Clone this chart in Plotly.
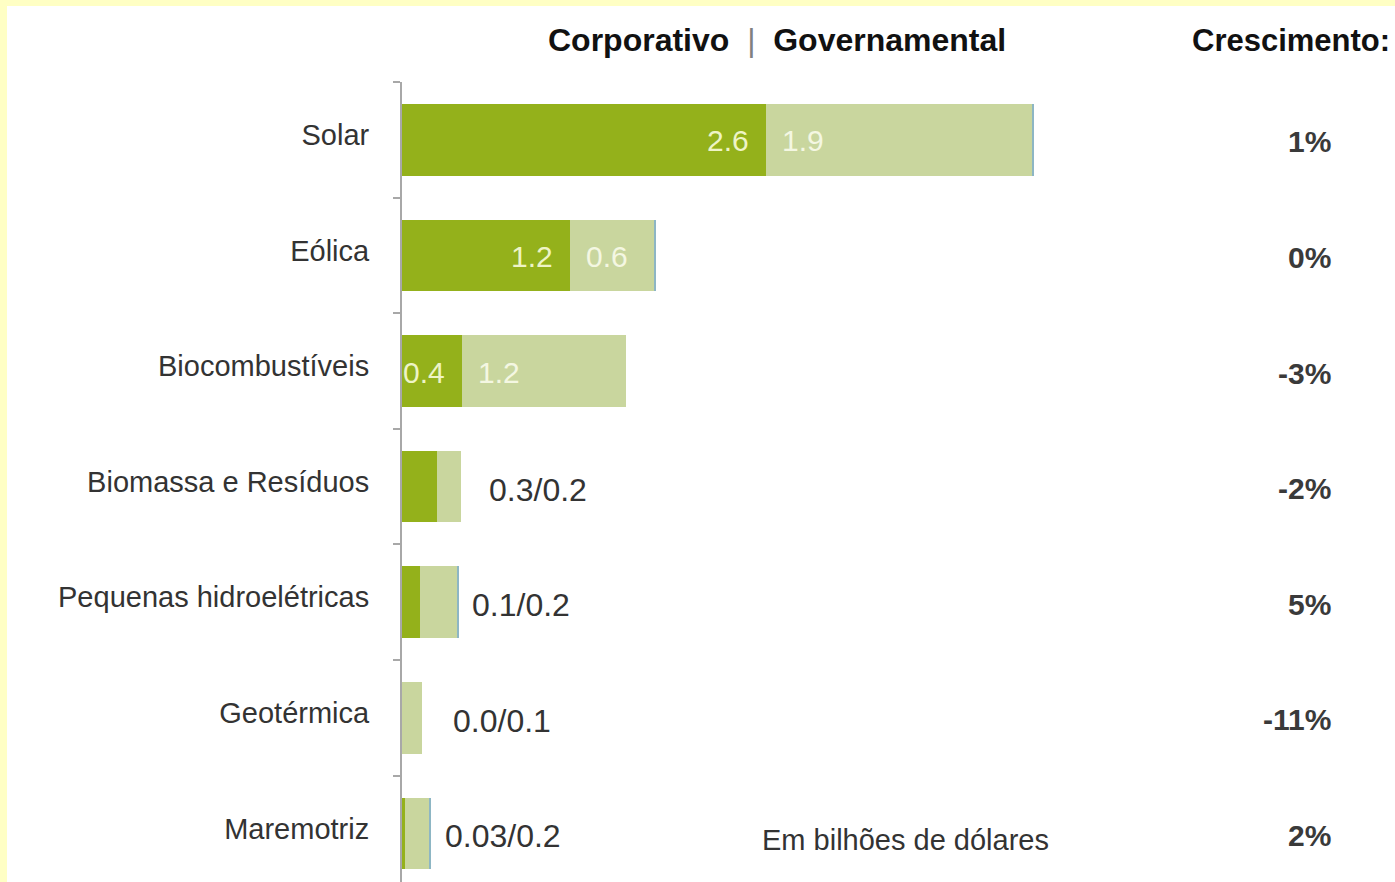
import plotly.graph_objects as go

# ---------------- data ----------------
categories = ["Solar", "Eólica", "Biocombustíveis", "Biomassa e Resíduos",
              "Pequenas hidroelétricas", "Geotérmica", "Maremotriz"]
corporativo = [2.6, 1.2, 0.43, 0.25, 0.13, 0.0, 0.02]
governamental = [1.9, 0.6, 1.17, 0.17, 0.26, 0.14, 0.17]
outros = [0.015, 0.015, 0.0, 0.0, 0.015, 0.0, 0.015]
corp_labels = ["2.6", "1.2", "0.4", "", "", "", ""]
gov_labels = ["1.9", "0.6", "1.2", "", "", "", ""]
outside_labels = ["", "", "", "0.3/0.2", "0.1/0.2", "0.0/0.1", "0.03/0.2"]
crescimento = ["1%", "0%", "-3%", "-2%", "5%", "-11%", "2%"]

# ---------------- style ----------------
W, H = 1395, 882
L, T = 402, 82
PX_PER_UNIT = 140.0
DARK = "#94B11B"
LIGHT = "#C9D69E"
EDGE = "#8DB6C4"
FONT = "Liberation Sans, Arial, sans-serif"
TXT = "#333333"
outside_gap_px = [0, 0, 0, 26, 11, 29, 12]

fig = go.Figure()
fig.add_trace(go.Bar(y=categories, x=corporativo, orientation="h",
                     marker=dict(color=DARK, line=dict(width=0)), width=0.62,
                     name="Corporativo", hoverinfo="skip"))
fig.add_trace(go.Bar(y=categories, x=governamental, orientation="h",
                     marker=dict(color=LIGHT, line=dict(width=0)), width=0.62,
                     name="Governamental", hoverinfo="skip"))
fig.add_trace(go.Bar(y=categories, x=outros, orientation="h",
                     marker=dict(color=EDGE, line=dict(width=0)), width=0.62,
                     name="", hoverinfo="skip"))

ann = []
for i, cat in enumerate(categories):
    c = corporativo[i]
    t = corporativo[i] + governamental[i] + outros[i]
    if corp_labels[i]:
        ann.append(dict(x=c, y=cat, xref="x", yref="y", text=corp_labels[i],
                        xanchor="right", yanchor="middle", xshift=-15, yshift=-1,
                        showarrow=False, font=dict(family=FONT, size=30, color="#EEF4C6")))
    if gov_labels[i]:
        ann.append(dict(x=c, y=cat, xref="x", yref="y", text=gov_labels[i],
                        xanchor="left", yanchor="middle", xshift=14, yshift=-1,
                        showarrow=False, font=dict(family=FONT, size=30, color="#F4F7E2")))
    if outside_labels[i]:
        ann.append(dict(x=t, y=cat, xref="x", yref="y", text=outside_labels[i],
                        xanchor="left", yanchor="middle", xshift=outside_gap_px[i], yshift=-3,
                        showarrow=False, font=dict(family=FONT, size=32, color=TXT)))
    ann.append(dict(x=(1333 - L) / PX_PER_UNIT, y=cat, xref="x", yref="y",
                    text="<b>" + crescimento[i] + "</b>",
                    xanchor="right", yanchor="middle", yshift=-2,
                    showarrow=False, font=dict(family=FONT, size=30, color="#3A3A3A")))

pw = W - L
ph = H - T
def px(xp):
    return (xp - L) / pw
def py(yp):
    return 1 - (yp - T) / ph

ann.append(dict(x=px(777), y=py(40), xref="paper", yref="paper",
                text="<b>Corporativo</b>  <span style='color:#808080'>|</span>  <b>Governamental</b>",
                xanchor="center", yanchor="middle", showarrow=False,
                font=dict(family=FONT, size=32, color="#111111")))
ann.append(dict(x=px(1392), y=py(40), xref="paper", yref="paper",
                text="<b>Crescimento:</b>", xanchor="right", yanchor="middle",
                showarrow=False, font=dict(family=FONT, size=31, color="#111111")))
ann.append(dict(x=px(760), y=py(840), xref="paper", yref="paper",
                text="Em bilhões de dólares", xanchor="left", yanchor="middle",
                showarrow=False, font=dict(family=FONT, size=29, color=TXT)))

shapes = [
    dict(type="rect", xref="paper", yref="paper", x0=px(0), x1=px(7), y0=py(H), y1=py(0),
         fillcolor="#FFFFC4", line=dict(width=0), layer="above"),
    dict(type="rect", xref="paper", yref="paper", x0=px(0), x1=px(W), y0=py(6), y1=py(0),
         fillcolor="#FFFFC4", line=dict(width=0), layer="above"),
]

fig.update_layout(
    width=W, height=H,
    margin=dict(l=L, r=0, t=T, b=0, pad=0),
    barmode="stack", bargap=0.38,
    showlegend=False,
    plot_bgcolor="white", paper_bgcolor="white",
    font=dict(family=FONT, color=TXT),
    annotations=ann, shapes=shapes,
    xaxis=dict(range=[0, pw / PX_PER_UNIT], visible=False, fixedrange=True),
    yaxis=dict(type="category", categoryorder="array", categoryarray=categories,
               range=[6.42, -0.5], showline=True, linecolor="#A8A8A8", linewidth=2,
               ticks="outside", tickson="boundaries", ticklen=7, tickcolor="#A8A8A8",
               tickwidth=1.5, showgrid=False, zeroline=False,
               tickfont=dict(family=FONT, size=29, color=TXT),
               ticklabelstandoff=25, ticklabelshift=5, fixedrange=True),
)

fig.write_html("out.html")
